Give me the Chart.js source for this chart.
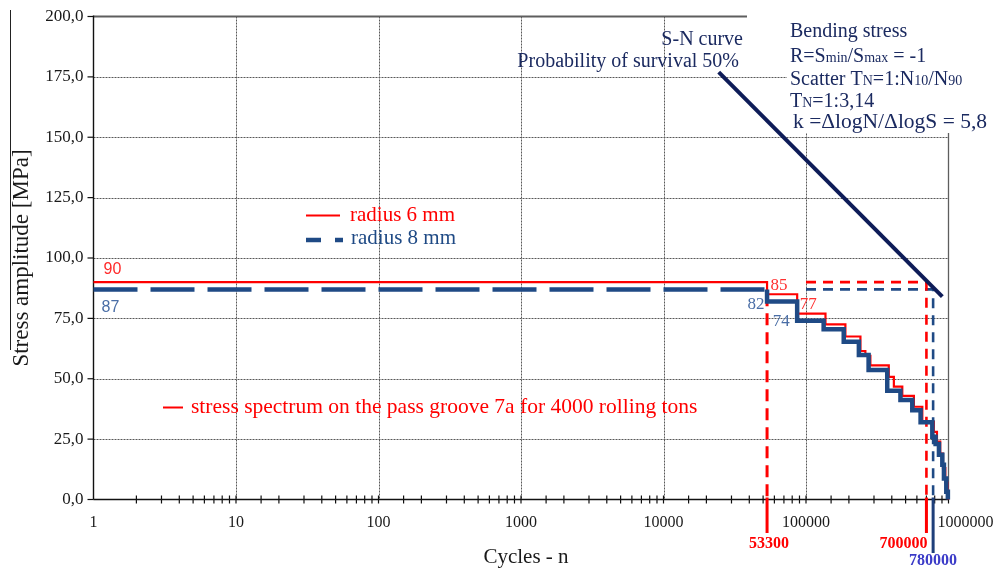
<!DOCTYPE html>
<html>
<head>
<meta charset="utf-8">
<script src="https://cdn.jsdelivr.net/npm/chart.js@4.4.0/dist/chart.umd.min.js"></script>
<style>
  html, body { margin: 0; padding: 0; background: #fff; }
  #wrap { width: 994px; height: 569px; position: relative; }
</style>
</head>
<body>
<div id="wrap"><canvas id="c" width="994" height="569"></canvas></div>
<script>
// Stress spectrum of pass groove 7a (4000 rolling tons) against the S-N curve

// radius 6 mm: cycle count at which each stress level ends, and the level [MPa]
const radius6Cycles = [1, 53300, 86700, 137000, 189000, 241000, 261000, 283000, 381000, 413600, 474000, 571700, 655000, 789000, 830000, 875000, 915000, 950000, 985000, 1000000];
const radius6Stress = [90, 85, 77, 72.5, 67.5, 61.5, 59.5, 55.5, 50.8, 46.7, 42.9, 38.4, 32.2, 28, 24, 19, 13, 7, 2, 0];

// radius 8 mm
const radius8Cycles = [1, 53300, 86700, 133000, 184000, 235000, 275000, 371600, 460000, 557000, 637000, 770000, 812000, 857000, 905000, 929000, 965000, 990000];
const radius8Stress = [87, 82, 74, 70.5, 65.3, 59.8, 53.6, 45, 41.2, 37, 32, 26, 23, 18.5, 14.4, 8.7, 3.2, 0];

// S-N curve, probability of survival 50 %
const snCycles = [24400, 905000];
const snStress = [177, 84];

// service lives
const lifeCycles = [53300, 700000, 780000];
const lifeLabels = ['53300', '700000', '780000'];
const lifeStress = [85, 90, 87];
const guideStartCycles = 100000;

// axis ticks
const xTickValues = [1, 10, 100, 1000, 10000, 100000, 1000000];
const xTickLabels = ['1', '10', '100', '1000', '10000', '100000', '1000000'];
const yTickValues = [0, 25, 50, 75, 100, 125, 150, 175, 200];
const yTickLabels = ['0,0', '25,0', '50,0', '75,0', '100,0', '125,0', '150,0', '175,0', '200,0'];

const RED = '#FF0000';
const BLUE = '#1F4A85';
const NAVY = '#0E1C58';
const TEXT_NAVY = '#1B2A60';
const SERIF = '"Liberation Serif", "Times New Roman", serif';

const pts = (xs, ys) => xs.map((x, i) => ({ x, y: ys[i] }));

const r6Line = pts(radius6Cycles, radius6Stress);

// radius 8 mm: the constant-amplitude part is dashed, the spectrum from the first drop on is solid
const r8Dashed = [{ x: radius8Cycles[0], y: radius8Stress[0] }, { x: radius8Cycles[1], y: radius8Stress[0] }];
const r8Solid = [{ x: radius8Cycles[1], y: radius8Stress[0] }].concat(pts(radius8Cycles.slice(1), radius8Stress.slice(1)));

// stepped 'before': the level is held horizontally to the next cycle count, then drops vertically
const datasets = [
  { label: 'S-N curve', data: pts(snCycles, snStress), borderColor: NAVY, borderWidth: 4, borderCapStyle: 'butt' },
  { label: 'radius 8 mm', data: r8Solid, borderColor: BLUE, borderWidth: 4.5, stepped: 'before' },
  { label: 'radius 8 mm const', data: r8Dashed, borderColor: BLUE, borderWidth: 4.5, borderDash: [44, 13], borderCapStyle: 'butt' },
  { label: 'radius 6 mm', data: r6Line, borderColor: RED, borderWidth: 2.2, stepped: 'before' },
  { label: 'life 53300', data: [{ x: lifeCycles[0], y: lifeStress[0] }, { x: lifeCycles[0], y: 0 }], borderColor: RED, borderWidth: 3, borderDash: [12, 7] },
  { label: 'life 700000', data: [{ x: guideStartCycles, y: lifeStress[1] }, { x: lifeCycles[1], y: lifeStress[1] }, { x: lifeCycles[1], y: 0 }], borderColor: RED, borderWidth: 2.6, borderDash: [10, 7] },
  { label: 'life 780000', data: [{ x: guideStartCycles, y: lifeStress[2] }, { x: lifeCycles[2], y: lifeStress[2] }, { x: lifeCycles[2], y: 0 }], borderColor: BLUE, borderWidth: 2.6, borderDash: [10, 7] }
].map(d => Object.assign({ pointRadius: 0, fill: false, tension: 0, clip: 8, borderJoinStyle: 'miter' }, d));

function seg(ctx, x1, y1, x2, y2) {
  ctx.beginPath(); ctx.moveTo(x1, y1); ctx.lineTo(x2, y2); ctx.stroke();
}

function richText(ctx, parts, x, y) {
  let cx = x;
  parts.forEach(([t, size, dy]) => {
    ctx.font = size + 'px ' + SERIF;
    ctx.fillText(t, cx, y + (dy || 0));
    cx += ctx.measureText(t).width;
  });
}

const decor = {
  id: 'decor',
  beforeDatasetsDraw(chart) {
    const { ctx, chartArea: a } = chart;
    const xs = chart.scales.x, ys = chart.scales.y;
    ctx.save();
    // dotted grid
    ctx.strokeStyle = '#585858';
    ctx.lineWidth = 1;
    ctx.setLineDash([2, 1]);
    yTickValues.forEach(v => {
      if (v === yTickValues[0] || v === yTickValues[yTickValues.length - 1]) return;
      const y = Math.round(ys.getPixelForValue(v)) + 0.5;
      seg(ctx, a.left, y, a.right, y);
    });
    xTickValues.forEach(v => {
      if (v === xTickValues[0] || v === xTickValues[xTickValues.length - 1]) return;
      const x = Math.round(xs.getPixelForValue(v)) + 0.5;
      seg(ctx, x, a.top, x, a.bottom);
    });
    ctx.setLineDash([]);
    // frame: top line and right edge
    ctx.strokeStyle = '#5e5e5e';
    ctx.lineWidth = 2;
    seg(ctx, a.left, a.top, 747, a.top);
    ctx.lineWidth = 1.3;
    seg(ctx, a.right, a.top, a.right, a.bottom);
    // white panels behind the annotation
    ctx.fillStyle = '#fff';
    ctx.fillRect(747, 0, 994 - 747, 73);
    ctx.fillRect(787, 0, 994 - 787, 133);
    // axes
    ctx.strokeStyle = '#111';
    ctx.lineWidth = 1.4;
    seg(ctx, a.left, a.top - 1, a.left, a.bottom);
    seg(ctx, a.left, a.bottom, a.right, a.bottom);
    ctx.lineWidth = 1.2;
    yTickValues.forEach(v => {
      const y = ys.getPixelForValue(v);
      seg(ctx, a.left - 6, y, a.left, y);
    });
    xs.ticks.forEach(t => {
      const x = xs.getPixelForValue(t.value);
      if (x < a.left + 1) return;
      seg(ctx, x, a.bottom - 4, x, a.bottom + 4);
    });
    ctx.restore();
  },
  afterDatasetsDraw(chart) {
    const { ctx, chartArea: a } = chart;
    const xs = chart.scales.x, ys = chart.scales.y;
    ctx.save();

    // axis labels
    ctx.fillStyle = '#1a1a1a';
    ctx.font = '17px ' + SERIF;
    ctx.textAlign = 'right';
    ctx.textBaseline = 'middle';
    yTickValues.forEach((v, i) => ctx.fillText(yTickLabels[i], a.left - 10, ys.getPixelForValue(v)));
    ctx.font = '16px ' + SERIF;
    ctx.textAlign = 'center';
    xTickValues.forEach((v, i) => {
      let x = xs.getPixelForValue(v);
      if (i === xTickValues.length - 1) x += 17;
      ctx.fillText(xTickLabels[i], x, a.bottom + 23);
    });

    // axis titles
    ctx.font = '21px ' + SERIF;
    ctx.fillText('Cycles - n', 526, 557);
    ctx.save();
    ctx.translate(22, 258);
    ctx.rotate(-Math.PI / 2);
    ctx.font = '23px ' + SERIF;
    ctx.fillText('Stress amplitude [MPa]', 0, 0);
    ctx.restore();
    ctx.strokeStyle = '#222';
    ctx.lineWidth = 1;
    seg(ctx, 10.5, 10, 10.5, 350);

    // service-life markers below the axis
    const lifeColors = [RED, RED, '#1F3F7A'];
    const lifeEnds = [533, 533, 553];
    lifeCycles.forEach((c, i) => {
      const x = xs.getPixelForValue(c);
      ctx.strokeStyle = lifeColors[i];
      ctx.lineWidth = 3;
      seg(ctx, x, a.bottom - 2, x, lifeEnds[i]);
    });
    ctx.font = 'bold 16px ' + SERIF;
    ctx.fillStyle = RED;
    ctx.textAlign = 'center';
    ctx.fillText(lifeLabels[0], xs.getPixelForValue(lifeCycles[0]) + 2, 544);
    ctx.textAlign = 'right';
    ctx.fillText(lifeLabels[1], xs.getPixelForValue(lifeCycles[1]) + 1, 544);
    ctx.textAlign = 'center';
    ctx.fillStyle = '#3B3BC8';
    ctx.fillText(lifeLabels[2], xs.getPixelForValue(lifeCycles[2]), 561);

    // stress levels at the start of the spectra
    ctx.textAlign = 'center';
    ctx.font = '16px "Liberation Sans", Arial, sans-serif';
    ctx.fillStyle = '#FF2A2A';
    ctx.fillText(String(radius6Stress[0]), xs.getPixelForValue(radius6Cycles[0]) + 19, ys.getPixelForValue(radius6Stress[0]) - 13);
    ctx.fillStyle = '#4A6EA6';
    ctx.fillText(String(radius8Stress[0]), xs.getPixelForValue(radius8Cycles[0]) + 17, ys.getPixelForValue(radius8Stress[0]) + 18);
    ctx.font = '17px ' + SERIF;
    ctx.fillStyle = '#FF3030';
    ctx.fillText(String(radius6Stress[1]), xs.getPixelForValue(radius6Cycles[1]) + 12, ys.getPixelForValue(radius6Stress[1]) - 9);
    ctx.fillText(String(radius6Stress[2]), xs.getPixelForValue(radius6Cycles[2]) + 11, ys.getPixelForValue(radius6Stress[2]) - 9);
    ctx.fillStyle = '#4A6EA6';
    ctx.fillText(String(radius8Stress[1]), xs.getPixelForValue(radius8Cycles[1]) - 11, ys.getPixelForValue(radius8Stress[1]) + 3);
    ctx.fillText(String(radius8Stress[2]), xs.getPixelForValue(radius8Cycles[2]) - 16, ys.getPixelForValue(radius8Stress[2]) + 1);

    // legend
    ctx.textAlign = 'left';
    ctx.font = '21px ' + SERIF;
    ctx.strokeStyle = RED;
    ctx.lineWidth = 2;
    seg(ctx, 306, 215.5, 340, 215.5);
    ctx.fillStyle = RED;
    ctx.fillText('radius 6 mm', 350, 215);
    ctx.strokeStyle = BLUE;
    ctx.lineWidth = 4.5;
    seg(ctx, 306, 240, 321, 240);
    seg(ctx, 335, 240, 343, 240);
    ctx.fillStyle = BLUE;
    ctx.fillText('radius 8 mm', 351, 238);

    ctx.strokeStyle = RED;
    ctx.lineWidth = 2;
    seg(ctx, 163, 407.5, 183, 407.5);
    ctx.fillStyle = RED;
    ctx.font = '21.5px ' + SERIF;
    ctx.fillText('stress spectrum on the pass groove 7a for 4000 rolling tons', 191, 407);

    // S-N curve annotation
    ctx.fillStyle = TEXT_NAVY;
    ctx.textBaseline = 'alphabetic';
    ctx.textAlign = 'right';
    ctx.font = '20px ' + SERIF;
    ctx.fillText('S-N curve', 743, 45);
    ctx.fillText('Probability of survival 50%', 739, 67);
    ctx.textAlign = 'left';
    richText(ctx, [['Bending stress', 20]], 790, 37);
    richText(ctx, [['R=S', 20], ['min', 14], ['/S', 20], ['max', 14], [' = -1', 20]], 790, 62);
    richText(ctx, [['Scatter T', 20], ['N', 14], ['=1:N', 20], ['10', 14], ['/N', 20], ['90', 14]], 790, 85);
    richText(ctx, [['T', 20], ['N', 14], ['=1:3,14', 20]], 790, 107);
    richText(ctx, [['k =\u0394logN/\u0394logS = 5,8', 21.5]], 793, 128);

    ctx.restore();
  }
};

new Chart(document.getElementById('c'), {
  type: 'line',
  data: { datasets },
  options: {
    responsive: false,
    animation: false,
    devicePixelRatio: 1,
    layout: { padding: { top: 16.5, right: 45.5, left: 0, bottom: 0 } },
    plugins: { legend: { display: false }, tooltip: { enabled: false } },
    scales: {
      x: {
        type: 'logarithmic', min: 1, max: 1000000,
        ticks: { display: false }, grid: { display: false }, border: { display: false },
        afterFit: s => { s.height = 69.5; }
      },
      y: {
        type: 'linear', min: 0, max: 200,
        ticks: { display: false }, grid: { display: false }, border: { display: false },
        afterFit: s => { s.width = 93.5; }
      }
    }
  },
  plugins: [decor]
});
</script>
</body>
</html>
